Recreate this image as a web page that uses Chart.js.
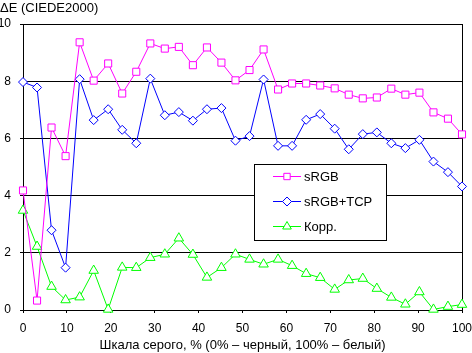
<!DOCTYPE html>
<html>
<head>
<meta charset="utf-8">
<script src="https://cdn.jsdelivr.net/npm/chart.js@4.4.1/dist/chart.umd.min.js"></script>
<style>
  html, body { margin: 0; padding: 0; background: #fff; }
  #c { display: block; }
</style>
</head>
<body>
<canvas id="c" width="472" height="353"></canvas>
<script>
// Gray level, %
const grayLevels = [0, 3.2, 6.5, 9.7, 12.9, 16.1, 19.4, 22.6, 25.8, 29.0, 32.3, 35.5, 38.7, 41.9, 45.2, 48.4,
    51.6, 54.8, 58.1, 61.3, 64.5, 67.7, 71.0, 74.2, 77.4, 80.6, 83.9, 87.1, 90.3, 93.5, 96.8, 100];

const srgb = [4.18, 0.33, 6.38, 5.38, 9.36, 8.02, 8.62, 7.57, 8.33, 9.32, 9.14, 9.2, 8.56, 9.18, 8.65, 8.03,
    8.39, 9.11, 7.71, 7.92, 7.92, 7.85, 7.75, 7.53, 7.4, 7.43, 7.74, 7.53, 7.6, 6.91, 6.69, 6.14];

const srgbTcp = [7.97, 7.78, 2.79, 1.48, 8.07, 6.64, 7.02, 6.3, 5.83, 8.09, 6.81, 6.92, 6.62, 7.02, 7.06, 5.92,
    6.08, 8.06, 5.74, 5.74, 6.65, 6.85, 6.34, 5.62, 6.15, 6.21, 5.83, 5.66, 5.95, 5.19, 4.82, 4.32];

const korr = [3.48, 2.22, 0.82, 0.35, 0.45, 1.38, 0.02, 1.49, 1.48, 1.83, 1.95, 2.51, 1.94, 1.14, 1.48, 1.95,
    1.77, 1.6, 1.77, 1.55, 1.27, 1.13, 0.72, 1.05, 1.1, 0.75, 0.44, 0.2, 0.63, 0.02, 0.12, 0.19];

const FONT = 'Liberation Sans, Arial, sans-serif';

function points(ys) {
    return ys.map((y, i) => ({ x: grayLevels[i], y: y }));
}

function series(label, ys, color, style, radius) {
    return {
        label: label,
        data: points(ys),
        borderColor: color,
        borderWidth: 1,
        backgroundColor: '#fff',
        pointStyle: style,
        pointRadius: radius,
        pointBorderColor: color,
        pointBackgroundColor: '#fff',
        pointBorderWidth: 1,
        tension: 0,
        clip: false
    };
}

// legend box inside the plot
const boxLegend = {
    id: 'boxLegend',
    afterDraw(chart) {
        const ctx = chart.ctx;
        const x0 = 254.5, y0 = 164.5, w = 132, h = 76;
        const rows = [176.5, 201.5, 226.5];
        ctx.save();
        ctx.fillStyle = '#fff';
        ctx.fillRect(x0, y0, w, h);
        ctx.strokeStyle = '#000';
        ctx.lineWidth = 1;
        ctx.strokeRect(x0, y0, w, h);
        const legendRadius = [4.5, 4.5, 5];
        chart.data.datasets.forEach((ds, i) => {
            const y = rows[i];
            ctx.strokeStyle = ds.borderColor;
            ctx.beginPath();
            ctx.moveTo(273, y);
            ctx.lineTo(301, y);
            ctx.stroke();
            ctx.fillStyle = '#fff';
            Chart.helpers.drawPoint(ctx, {
                pointStyle: ds.pointStyle,
                radius: legendRadius[i],
                rotation: 0,
                borderWidth: 1
            }, 287, y);
            ctx.fillStyle = '#000';
            ctx.font = '13px ' + FONT;
            ctx.textBaseline = 'middle';
            ctx.textAlign = 'left';
            ctx.fillText(ds.label, 304, y + 0.5);
        });
        ctx.restore();
    }
};

new Chart(document.getElementById('c'), {
    type: 'line',
    data: {
        datasets: [
            series('sRGB', srgb, '#ff00ff', 'rect', 5),
            series('sRGB+TCP', srgbTcp, '#0000ff', 'rectRot', 4.5),
            series('Корр.', korr, '#00ff00', 'triangle', 5.5)
        ]
    },
    options: {
        responsive: false,
        animation: false,
        layout: { padding: { left: 0, right: 10, top: 0, bottom: 0 } },
        plugins: {
            legend: { display: false },
            tooltip: { enabled: false },
            title: {
                display: true,
                text: 'ΔE (CIEDE2000)',
                align: 'start',
                color: '#000',
                font: { family: FONT, size: 13, weight: 'normal' },
                padding: { top: 1, bottom: 7.4 }
            }
        },
        scales: {
            x: {
                type: 'linear',
                min: 0,
                max: 100,
                afterFit(scale) {
                    scale.height = 43;
                    scale.paddingLeft = 0;
                    scale.paddingRight = 0;
                },
                border: { color: '#000', width: 1 },
                grid: {
                    color: (c) => (c.tick && c.tick.value === 100 ? '#000' : 'rgba(0,0,0,0)'),
                    tickColor: '#000',
                    tickLength: 3,
                    drawTicks: true
                },
                ticks: {
                    stepSize: 10,
                    color: '#000',
                    padding: 8,
                    maxRotation: 0,
                    font: { family: FONT, size: 12 }
                },
                title: {
                    display: true,
                    text: 'Шкала серого, % (0% – черный, 100% – белый)',
                    color: '#000',
                    font: { family: FONT, size: 13 },
                    padding: { top: 0, bottom: 0 }
                }
            },
            y: {
                min: 0,
                max: 10,
                afterFit(scale) { scale.width = 23; },
                border: { color: '#000', width: 1 },
                grid: {
                    color: '#000',
                    tickColor: '#000',
                    tickLength: 3
                },
                ticks: {
                    stepSize: 2,
                    color: '#000',
                    padding: 9,
                    font: { family: FONT, size: 12 }
                }
            }
        }
    },
    plugins: [boxLegend]
});
</script>
</body>
</html>
